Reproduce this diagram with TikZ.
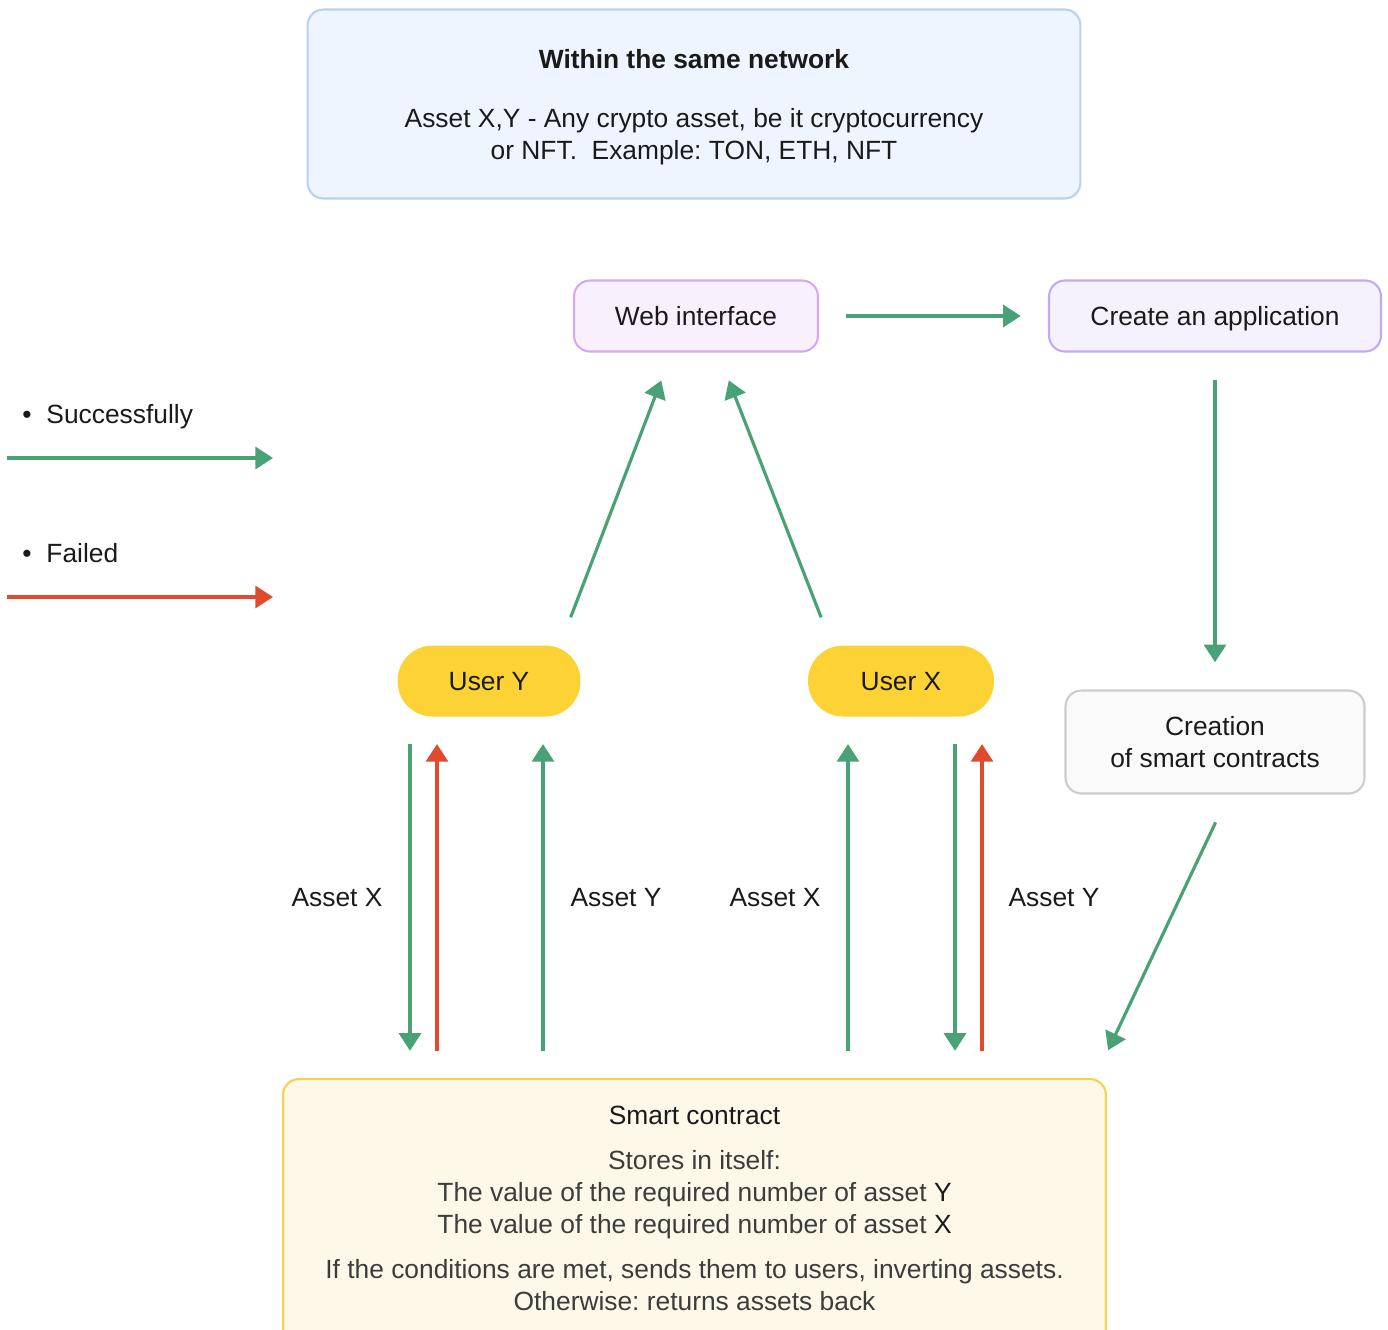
\documentclass[tikz,border=0pt]{standalone}
\usepackage{fontspec}
\setmainfont{Liberation Sans}
\usetikzlibrary{arrows.meta}
\frenchspacing

\definecolor{okgreen}{HTML}{49A275}
\definecolor{failred}{HTML}{E04A2D}
\definecolor{inkblack}{HTML}{1A1A1A}
\definecolor{lightink}{HTML}{3C3C3C}
\definecolor{infofill}{HTML}{EEF5FF}
\definecolor{infodraw}{HTML}{B9D0F2}
\definecolor{webfill}{HTML}{F8F1FD}
\definecolor{webdraw}{HTML}{D8A6F2}
\definecolor{appfill}{HTML}{F5F2FD}
\definecolor{appdraw}{HTML}{C3A9F3}
\definecolor{creafill}{HTML}{FAFAFA}
\definecolor{creadraw}{HTML}{CCCCCC}
\definecolor{useryellow}{HTML}{FDD235}
\definecolor{scfill}{HTML}{FEF8E9}
\definecolor{scdraw}{HTML}{F8D04A}

\tikzset{
    box/.style={rounded corners=9pt, line width=1.2pt, align=center, text=inkblack, font=\fontsize{15}{18.2}\selectfont},
    oneline/.style={text height=10.7pt, text depth=0pt},
    userpill/.style={fill=useryellow, rounded corners=20pt, minimum height=1.42cm, text=inkblack, font=\fontsize{15}{18}\selectfont, oneline},
    lbl/.style={text=inkblack, font=\fontsize{15}{18}\selectfont},
    ok/.style={draw=okgreen, line width=1.8pt, -{Triangle[width=12.5pt,length=10pt]}, color=okgreen},
    fail/.style={draw=failred, line width=1.8pt, -{Triangle[width=12.5pt,length=10pt]}, color=failred},
    spaced/.style={shorten <=15.5pt, shorten >=15.5pt}
}

\begin{document}
\begin{tikzpicture}[x=0.02cm, y=-0.02cm]
    \useasboundingbox (0,0) rectangle (1388,1329);

    % note on top
    \node[box, fill=infofill, draw=infodraw, minimum width=15.46cm, minimum height=3.78cm] (info) at (694,104) {};
    \node[box] (infotext) at (694,107)
        {\textbf{Within the same network}\\[15.4pt]
         Asset X,Y - Any crypto asset, be it cryptocurrency\\
         or NFT.\ \ Example: TON, ETH, NFT};

    % boxes
    \node[box, oneline, fill=webfill, draw=webdraw, minimum width=4.88cm, minimum height=1.42cm] (web) at (696,316) {Web interface};
    \node[box, oneline, fill=appfill, draw=appdraw, minimum width=6.64cm, minimum height=1.42cm] (app) at (1215,316) {Create an application};
    \node[box, fill=creafill, draw=creadraw, minimum width=5.98cm, minimum height=2.06cm] (creation) at (1215,742) {Creation\\of smart contracts};
    \node[userpill, minimum width=3.66cm] (usery) at (489,681) {User Y};
    \node[userpill, minimum width=3.72cm] (userx) at (901,681) {User X};
    \node[box, fill=scfill, draw=scdraw, anchor=north, minimum width=16.46cm, inner ysep=15.3pt,
          font=\fontsize{15}{18.2}\selectfont, text=lightink] (contract) at (694.5,1078)
        {\textcolor{inkblack}{Smart contract}\\[7.4pt]
         Stores in itself:\\
         The value of the required number of asset \textcolor{inkblack}{Y}\\
         The value of the required number of asset \textcolor{inkblack}{X}\\[7.4pt]
         If the conditions are met, sends them to users, inverting assets.\\
         Otherwise: returns assets back\\
         \mbox{}};

    % legend
    \node[lbl, oneline, anchor=west, inner sep=0pt] (legok) at (22,414) {•\hspace{8.5pt}Successfully};
    \node[lbl, oneline, anchor=west, inner sep=0pt] (legfail) at (22,553) {•\hspace{8.5pt}Failed};
    \coordinate (okstart) at (7,458);
    \coordinate (okend) at (273,458);
    \coordinate (failstart) at (7,597);
    \coordinate (failend) at (273,597);
    \draw[ok] (okstart) -- (okend);
    \draw[fail] (failstart) -- (failend);

    % asset labels
    \node[lbl] (assetx1) at (337,898) {Asset X};
    \node[lbl] (assety1) at (616,898) {Asset Y};
    \node[lbl] (assetx2) at (775,898) {Asset X};
    \node[lbl] (assety2) at (1054,898) {Asset Y};

    % columns of the vertical arrows
    \coordinate (col1) at (410,0);
    \coordinate (col2) at (437,0);
    \coordinate (col3) at (543,0);
    \coordinate (col4) at (848,0);
    \coordinate (col5) at (955,0);
    \coordinate (col6) at (982,0);
    \coordinate (scin) at (1095,1078);

    % flow
    \draw[ok, spaced] (web) -- (app);
    \draw[ok, spaced] (app) -- (creation);
    \draw[ok, shorten <=17.5pt, shorten >=17.5pt] ([xshift=7.8pt]creation.south) -- (scin);
    \draw[ok, shorten <=17pt, shorten >=17pt] ([xshift=40.4pt]usery.north) -- ([xshift=-13.7pt]web.south);
    \draw[ok, shorten <=17pt, shorten >=17pt] ([xshift=-39.3pt]userx.north) -- ([xshift=12.5pt]web.south);

    \draw[ok, spaced] (usery.south -| col1) -- (contract.north -| col1);
    \draw[fail, spaced] (contract.north -| col2) -- (usery.south -| col2);
    \draw[ok, spaced] (contract.north -| col3) -- (usery.south -| col3);
    \draw[ok, spaced] (contract.north -| col4) -- (userx.south -| col4);
    \draw[ok, spaced] (userx.south -| col5) -- (contract.north -| col5);
    \draw[fail, spaced] (contract.north -| col6) -- (userx.south -| col6);
\end{tikzpicture}
\end{document}
